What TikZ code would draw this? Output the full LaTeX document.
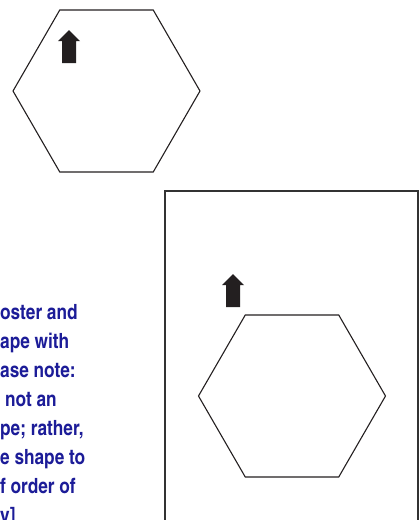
\documentclass[tikz,border=0pt]{standalone}
\usepackage{fontspec}
\usepackage{tikz}
\usetikzlibrary{
  shapes.geometric,
}
\newfontfamily\notefont{texgyreheroscn-bold}[Extension=.otf]
\definecolor{noteCol}{HTML}{1C1C98}
\definecolor{inkCol}{HTML}{231F20}
\definecolor{frameCol}{HTML}{333333}
\tikzset{
  hexshape/.style={
    regular polygon, regular polygon sides=6, draw=inkCol, line width=1.1pt,
    minimum size=187pt, inner sep=0pt,
  },
  framebox/.style={
    draw=frameCol, line width=1.6pt,
  },
  notetext/.style={
    anchor=base west, inner sep=0pt, text=noteCol,
    font=\notefont\fontsize{21pt}{29pt}\selectfont,
  },
}
% filled block arrow pointing up, tip at #1
\newcommand\uparrowmark[1]{%
  \fill[inkCol] (#1) -- ++(11,11) -- ++(-4,0) -- ++(0,22) -- ++(-14,0)
    -- ++(0,-22) -- ++(-4,0) -- cycle;%
}

\begin{document}
\begin{tikzpicture}[x=1pt, y=-1pt]
\useasboundingbox (0,0) rectangle (420,520);

% upper hexagon with its arrow
\node[hexshape] (hexTop) at (106.5,91) {};
\coordinate (tipTop) at (69,30);
\uparrowmark{tipTop}

% framed hexagon
\draw[framebox] (165,191) rectangle (418,560);
\node[hexshape] (hexLow) at (292,396) {};
\coordinate (tipLow) at (233,274);
\uparrowmark{tipLow}

% clipped caption text
\foreach \txt [count=\i] in {oster and, ape with, ase note:,
    \hspace*{5pt}not an, {pe; rather,}, e shape to, f order of, y]}
  \node[notetext] (note\i) at (0,290+29*\i) {\txt};

\end{tikzpicture}
\end{document}
